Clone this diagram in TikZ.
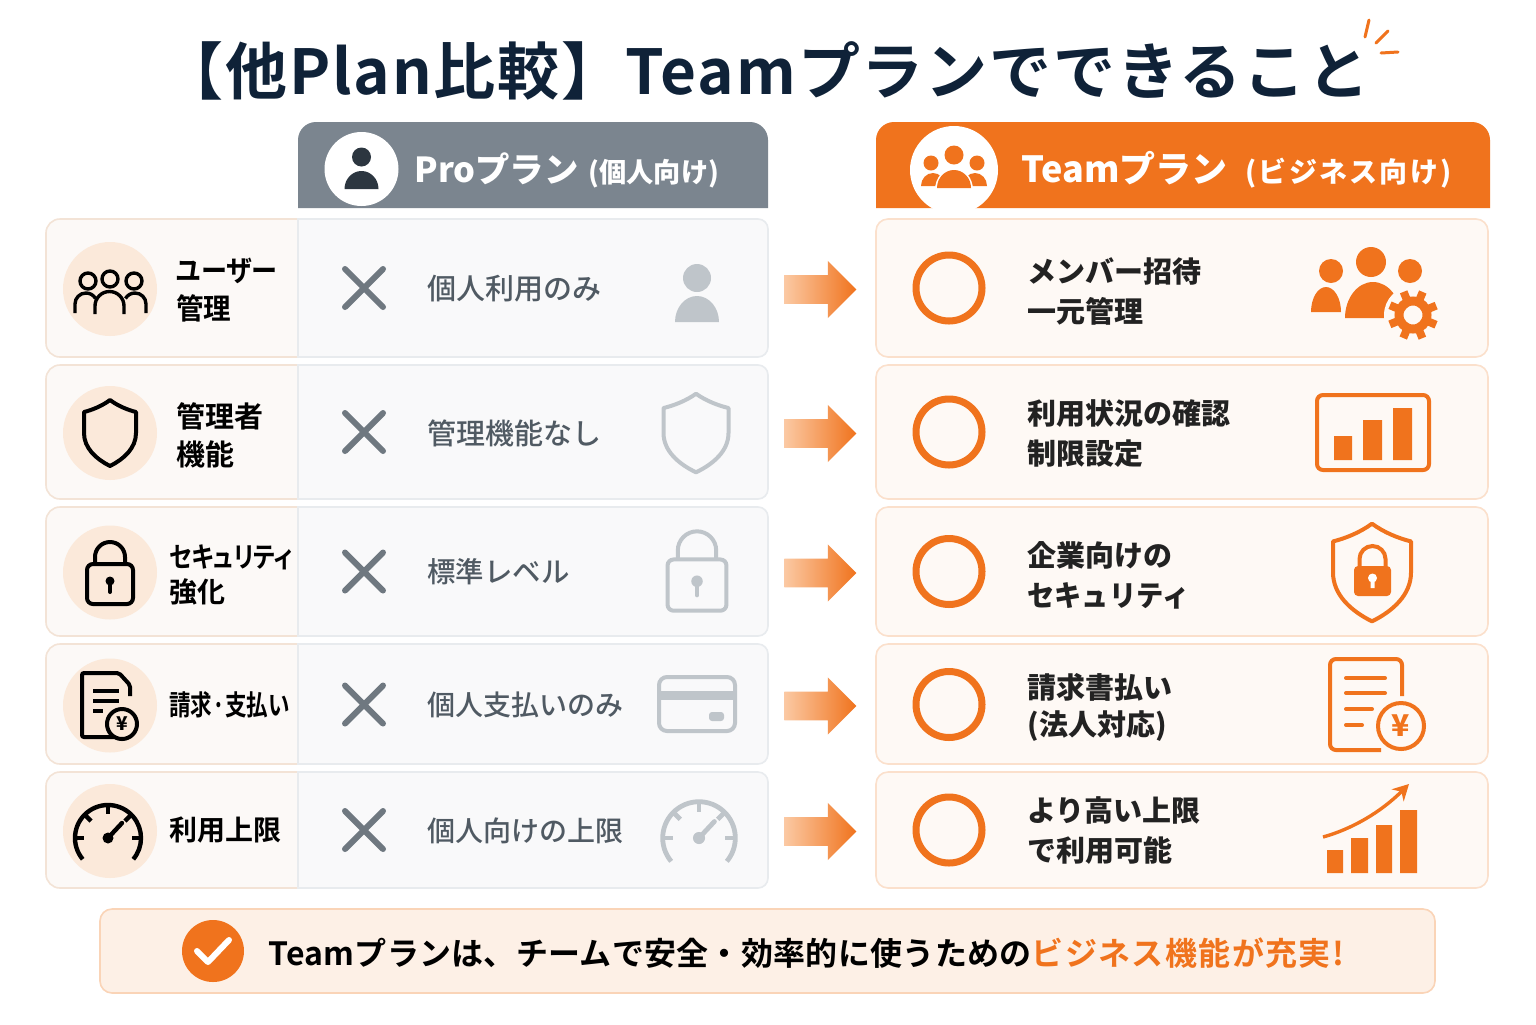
\documentclass[tikz,border=0pt]{standalone}
\usepackage{fontspec}
\setmainfont{Noto Sans CJK JP}
\newfontfamily\paltfont[RawFeature=+palt]{Noto Sans CJK JP Bold}
\newfontfamily\midfont{Noto Sans CJK JP Medium}
\newfontfamily\titlefont[LetterSpace=3]{Noto Sans CJK JP Bold}
\newfontfamily\bannerfont[LetterSpace=0.9]{Noto Sans CJK JP Bold}
\newfontfamily\bannerwide[LetterSpace=4.4]{Noto Sans CJK JP Bold}
\newfontfamily\widefont[LetterSpace=8]{Noto Sans CJK JP Medium}
\usetikzlibrary{arrows.meta,shapes.arrows,positioning}

\definecolor{inkblue}{HTML}{0F2238}
\definecolor{teamorange}{HTML}{F0731D}
\definecolor{arrowlight}{HTML}{FBC9A3}
\definecolor{progray}{HTML}{7B858F}
\definecolor{prodark}{HTML}{2C3640}
\definecolor{crossgray}{HTML}{6F7880}
\definecolor{icongray}{HTML}{BFC5CA}
\definecolor{protext}{HTML}{505A63}
\definecolor{peach}{HTML}{FBE9DA}
\definecolor{leftfill}{HTML}{FCF9F7}
\definecolor{leftline}{HTML}{F3E3D6}
\definecolor{profill}{HTML}{F9F9FA}
\definecolor{proline}{HTML}{E8EBEE}
\definecolor{teamfill}{HTML}{FEF9F5}
\definecolor{teamline}{HTML}{FBE0CC}
\definecolor{teamtext}{HTML}{222222}
\definecolor{bannerfill}{HTML}{FDF0E6}
\definecolor{bannerline}{HTML}{FAD4B7}

% all icons are drawn round their own centre, one unit is one pixel
\newcommand{\bust}[4]{\fill ({#1-#3},#2) arc[start angle=180,end angle=0,x radius=#3,y radius=#4] -- cycle;}
\tikzset{
  pics/peopleline/.style={code={
    \draw (-22,9) circle (8) (0,11) circle (8) (24,9) circle (8);
    \draw (-35,-23) -- (-35,-14) arc (180:30:11);
    \draw (-15,-24) -- (-15,-16) arc (180:0:14.5) -- (14,-24);
    \draw (36,-23) -- (36,-14) arc (0:150:11);
  }},
  pics/shieldicon/.style={code={
    \draw[line join=round] (0,33) .. controls (-8,27) and (-18,23) .. (-26,21) -- (-26,0)
      .. controls (-26,-15) and (-14,-26) .. (0,-33)
      .. controls (14,-26) and (26,-15) .. (26,0) -- (26,21)
      .. controls (18,23) and (8,27) .. (0,33) -- cycle;
  }},
  pics/lockicon/.style={code={
    \draw[rounded corners=3pt] (-23,-31) rectangle (23,9);
    \draw (-15,9) -- (-15,16) arc (180:0:15) -- (15,9);
    \fill (0,-8) circle (4.5);
    \draw[line cap=round] (0,-8) -- (0,-19);
  }},
  pics/yencoin/.style n args={3}{code={
    \draw[fill=#3] (0,0) circle (#1);
    \node[inner sep=0,font=\bfseries\fontsize{#2}{#2}\selectfont] (yen) at (0,0) {¥};
  }},
  pics/gaugeicon/.style={code={
    \draw (220:33) arc (220:-40:33);
    \foreach \a in {45,90,135,180,0} \draw ({\a}:33) -- ({\a}:24);
    \fill (0,0) circle (5.5);
    \draw[line cap=round] (0,0) -- (14,15);
  }},
  pics/cardicon/.style={code={
    \draw[rounded corners=4pt] (-38,-27) rectangle (38,27);
    \fill (-38,4) rectangle (38,13);
    \fill[rounded corners=1.5pt] (12,-17) rectangle (27,-8);
  }},
  pics/crossmark/.style={code={
    \draw[line width=3pt,line cap=round] (-19,19) -- (19,-19) (-19,-19) -- (19,19);
  }},
  pics/gearicon/.style={code={
    \fill[teamfill] (0,0) circle (29);
    \draw[line width=4.5pt] (0,0) circle (14);
    \foreach \a in {0,45,...,315} \draw[line width=4pt] ({\a+22}:17) -- ({\a+22}:25);
  }}
}

\begin{document}
\begin{tikzpicture}[x=0.5pt,y=0.5pt]
  \tikzstyle{leftcell}=[fill=leftfill,draw=leftline,line width=0.8pt]
  \tikzstyle{procell}=[fill=profill,draw=proline,line width=0.8pt]
  \tikzstyle{teamcell}=[rectangle,rounded corners=6pt,fill=teamfill,draw=teamline,line width=0.8pt,minimum width=306pt,inner sep=0]
  \tikzstyle{leftlabel}=[anchor=west,align=left,inner sep=0,text=black,font=\paltfont\fontsize{14.5}{19}\selectfont]
  \tikzstyle{prolabel}=[anchor=west,align=left,inner sep=0,text=protext,font=\midfont\fontsize{14.5}{20}\selectfont]
  \tikzstyle{teamlabel}=[anchor=west,align=left,inner sep=0,text=teamtext,font=\bfseries\fontsize{14.5}{20}\selectfont]
  \tikzstyle{nextarrow}=[single arrow,single arrow tip angle=90,minimum height=36pt,minimum width=28.5pt,inner sep=0,left color=arrowlight,middle color=teamorange,right color=teamorange,anchor=tail]
  \tikzstyle{blackicon}=[color=black,line width=1.7pt]
  \tikzstyle{grayicon}=[color=icongray,line width=2pt]
  \tikzstyle{orangeicon}=[color=teamorange,line width=2pt]
  \tikzstyle{okring}=[circle,draw=teamorange,line width=3.5pt,minimum size=33pt,inner sep=0]

  \useasboundingbox (0,0) rectangle (1536,-1024);
  \fill[white] (0,0) rectangle (1536,-1024);

  % title
  \node [anchor=west,inner sep=0,text=inkblue,font=\titlefont\fontsize{31}{31}\selectfont] (title) at (161,-71) {【他Plan比較】Teamプランでできること};
  \draw [teamorange,line width=1.5pt,line cap=round] (1369,-20) -- (1365,-37) (1388,-31) -- (1376,-43) (1381,-53) -- (1398,-52);

  % column heads
  \begin{scope}
    \fill [progray] (298,-208) [rounded corners=9pt] -- (298,-122) -- (768,-122) [sharp corners] -- (768,-208) -- cycle;
    \fill [teamorange] (876,-208) [rounded corners=9pt] -- (876,-122) -- (1490,-122) [sharp corners] -- (1490,-208) -- cycle;
    \fill [white] (361.5,-169) circle (37);
    \fill [white] (954,-170) circle (44);
    \begin{scope}[shift={(361.5,-169)},color=prodark]
      \fill (0,12) circle (9.5);
      \bust{0}{-20}{17}{18}
    \end{scope}
    \begin{scope}[shift={(954,-170)},color=teamorange]
      \fill (0,15) circle (9.5) (-23,7) circle (7.5) (23,7) circle (7.5);
      \bust{-21}{-16}{12}{13}
      \bust{21}{-16}{12}{13}
      \fill [white] (0,-20) ellipse (19 and 22);
      \bust{0}{-18}{17}{18}
    \end{scope}
    \node [anchor=west,inner sep=0,text=white] (proname) at (414,-170)
      {\bfseries\fontsize{17.2}{18}\selectfont Proプラン\hspace{5pt}\midfont\fontsize{13.6}{14}\selectfont (個人向け)};
    \node [anchor=west,inner sep=0,text=white] (teamname) at (1021,-170)
      {\bfseries\fontsize{18}{18}\selectfont Teamプラン\hspace{9pt}\widefont\fontsize{14}{14}\selectfont (ビジネス向け)};
  \end{scope}

  % rows
  \foreach \r/\t/\b/\c in {A/219/357/288,B/365/499/432,C/507/636/571.5,D/644/764/704.5,E/772/888/830}{
    \path [leftcell] (298,-\t) [rounded corners=7pt] -- (46,-\t) -- (46,-\b) [sharp corners] -- (298,-\b) -- cycle;
    \path [procell] (298,-\t) [rounded corners=5pt] -- (768,-\t) -- (768,-\b) [sharp corners] -- (298,-\b) -- cycle;
    \coordinate (pro\r) at (768,-\c-1.5);
    \node [teamcell,minimum height=(\b-\t)*0.5pt] (team\r) at (1182,{-(\t+\b)/2}) {};
    \node [nextarrow,right = 8pt of pro\r] (next\r) {\rule{0pt}{14pt}};
    \fill [peach] (110,-\c-1) circle (47);
    \pic [color=crossgray] (cross\r) at (364,-\c) {crossmark};
    \node [okring] (ok\r) at (949,-\c) {};
  }

  % first column
  \node [leftlabel] (userlabel) at (176,-290) {\scalebox{.9}[1]{ユーザー}\\\scalebox{.95}[1]{管理}};
  \node [leftlabel] (adminlabel) at (176,-435) {管理者\\機能};
  \node [leftlabel,font=\paltfont\fontsize{14}{17.5}\selectfont] (seclabel) at (169,-575) {\scalebox{.84}[1]{セキュリティ}\\強化};
  \node [leftlabel,font=\paltfont\fontsize{14}{17.5}\selectfont] (paylabel) at (169,-705) {\scalebox{.77}[1]{請求·支払い}};
  \node [leftlabel,font=\paltfont\fontsize{14}{17.5}\selectfont] (limitlabel) at (169,-830) {利用上限};
  \pic [blackicon] (peoplebk) at (110,-290) {peopleline};
  \pic [blackicon,line width=2pt] (shieldbk) at (110,-433) {shieldicon};
  \pic [blackicon,line width=2pt] (lockbk) at (110,-573) {lockicon};
  \begin{scope}[shift={(110,-704)},blackicon]
    \draw [rounded corners=1pt,line width=2pt] (4,-33) -- (-28,-33) -- (-28,31) -- (9,31) -- (20,19) -- (20,8);
    \draw [line width=2pt] (-17,13) -- (9,13) (-17,3) -- (9,3) (-17,-7) -- (-7,-7);
    \pic [line width=2pt] (coinbk) at (12,-20) {yencoin={15}{9.5}{peach}};
  \end{scope}
  \pic [blackicon,line width=2.2pt] (gaugebk) at (108,-838) {gaugeicon};

  % pro column
  \node [prolabel] (prouser) at (427,-289) {個人利用のみ};
  \node [prolabel] (proadmin) at (427,-433) {管理機能なし};
  \node [prolabel,font=\midfont\fontsize{14.2}{20}\selectfont] (prosec) at (427,-572) {標準レベル};
  \node [prolabel,font=\midfont\fontsize{14}{20}\selectfont] (propay) at (427,-705) {個人支払いのみ};
  \node [prolabel,font=\midfont\fontsize{14}{20}\selectfont] (prolimit) at (427,-831) {個人向けの上限};
  \begin{scope}[shift={(697,-293)},color=icongray]
    \fill (0,15) circle (14);
    \bust{0}{-29}{22}{26}
  \end{scope}
  \pic [grayicon,xscale=1.25,yscale=1.19] (shieldgr) at (696,-433) {shieldicon};
  \pic [grayicon,scale=1.28] (lockgr) at (697,-571) {lockicon};
  \pic [grayicon] (cardgr) at (697,-704) {cardicon};
  \pic [grayicon,line width=2.4pt,scale=1.1] (gaugegr) at (699,-838) {gaugeicon};

  % team column
  \node [teamlabel] (teamuser) at (1027,-291) {メンバー招待\\一元管理};
  \node [teamlabel] (teamadmin) at (1027,-434) {利用状況の確認\\制限設定};
  \node [teamlabel] (teamsec) at (1027,-575) {企業向けの\\\scalebox{.94}[1]{セキュリティ}};
  \node [teamlabel,font=\bfseries\fontsize{14.5}{18.5}\selectfont] (teampay) at (1027,-707) {請求書払い\\(法人対応)};
  \node [teamlabel] (teamlimit) at (1027,-831) {より高い上限\\で利用可能};

  \begin{scope}[color=teamorange]
    \fill (1331,-271) circle (12) (1371,-262) circle (15) (1410,-271) circle (12);
    \bust{1326}{-312}{15}{25}
    \bust{1373}{-318}{28}{36}
  \end{scope}
  \pic [color=teamorange] (gearor) at (1413,-315) {gearicon};

  \begin{scope}[color=teamorange]
    \draw [line width=2pt,rounded corners=3pt] (1317,-395) rectangle (1429,-470);
    \fill (1334,-436) rectangle (1352,-460) (1363,-420) rectangle (1382,-460) (1393,-408) rectangle (1412,-460);
  \end{scope}

  \pic [orangeicon,xscale=1.5,yscale=1.48] (shieldor) at (1372,-572.5) {shieldicon};
  \begin{scope}[color=teamorange]
    \fill [rounded corners=2pt] (1354,-566) rectangle (1391,-596);
    \draw [line width=2pt] (1359.5,-566) -- (1359.5,-559) arc (180:0:13) -- (1385.5,-566);
    \fill [white] (1372.5,-578) circle (4.5) (1370.5,-578) rectangle (1374.5,-588);
  \end{scope}

  \begin{scope}[color=teamorange]
    \draw [line width=2pt,rounded corners=3pt] (1381,-750) -- (1330,-750) -- (1330,-659) -- (1402,-659) -- (1402,-696);
    \draw [line width=2pt,line cap=round] (1346,-678) -- (1385,-678) (1346,-693) -- (1385,-693) (1346,-709) -- (1372,-709) (1346,-725) -- (1362,-725);
    \pic [line width=2pt] (coinor) at (1401,-726) {yencoin={23}{15}{teamfill}};
  \end{scope}

  \begin{scope}[color=teamorange]
    \fill (1327,-850) rectangle (1343,-873) (1351,-838) rectangle (1368,-873) (1376,-825) rectangle (1392,-873) (1400,-810) rectangle (1417,-873);
    \draw [line width=1.7pt,-{Stealth[length=8pt,width=8.5pt]}] (1323,-837) .. controls (1352,-829) and (1381,-812) .. (1409,-784);
  \end{scope}

  % banner
  \node [rectangle,rounded corners=6pt,fill=bannerfill,draw=bannerline,line width=0.8pt,minimum width=667.5pt,minimum height=42pt,inner sep=0] (banner) at (767.5,-951) {};
  \node [circle,fill=teamorange,minimum size=31pt,inner sep=0] (okbadge) at (213,-951) {};
  \draw [white,line width=3pt,line cap=round,line join=round] (197,-951) -- (208,-962) -- (229,-940);
  \node [anchor=west,inner sep=0,text=black,font=\fontsize{16}{16}\selectfont] (bannertext) at (268,-953)
    {\bannerfont Teamプランは、チームで安全・効率的に使うための\textcolor{teamorange}{\bannerwide ビジネス機能が充実!}};
\end{tikzpicture}
\end{document}
